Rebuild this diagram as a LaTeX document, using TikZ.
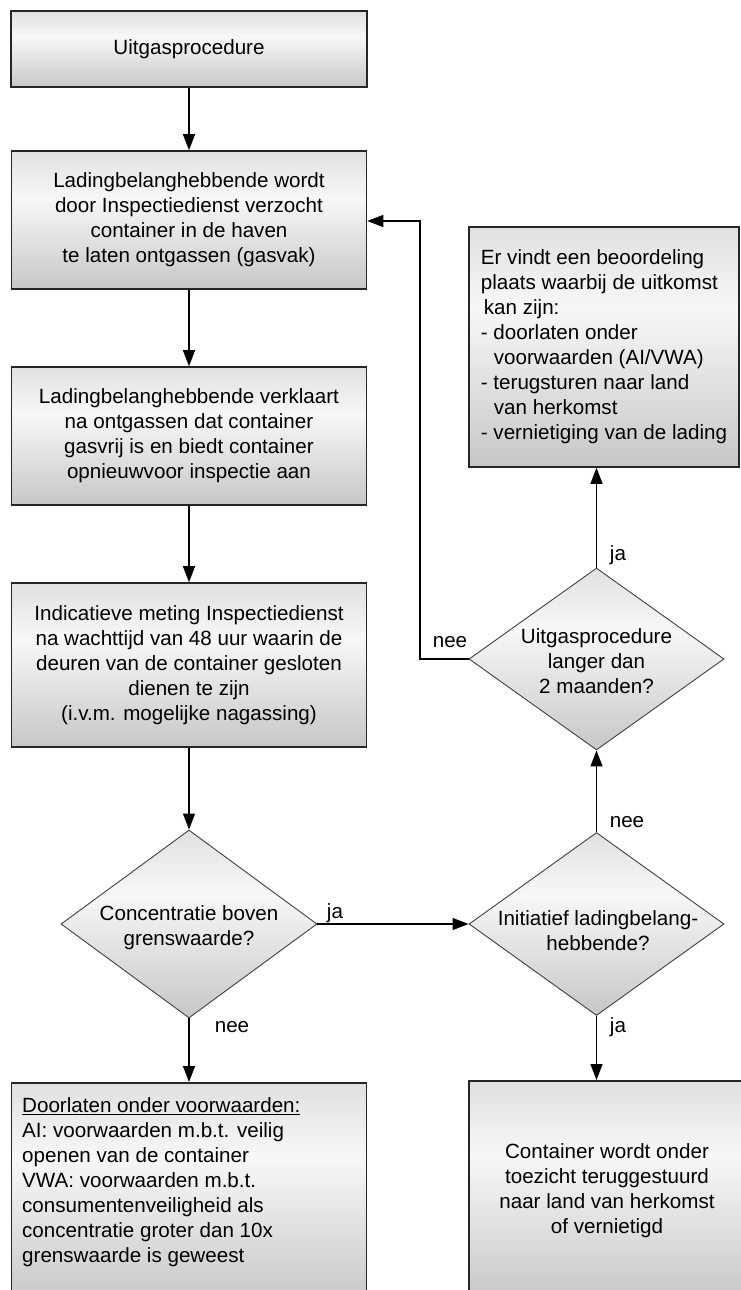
\documentclass[tikz,border=0pt]{standalone}
\usepackage{fontspec}
\setmainfont{Liberation Sans}
\usetikzlibrary{shapes.geometric,arrows.meta}

\pgfdeclareverticalshading{boxgrad}{100bp}{color(0bp)=(black!22); color(25bp)=(black!22); color(58bp)=(black!3); color(75bp)=(black!12); color(100bp)=(black!12)}

\begin{document}
\begin{tikzpicture}[x=1pt,y=-1pt,
  font=\fontsize{20.6}{25}\selectfont,
  procbox/.style={draw=black!85,line width=1.6pt,shading=boxgrad,align=center,inner sep=0pt},
  question/.style={diamond,draw=black!75,line width=0.9pt,shading=boxgrad,inner sep=0pt,minimum width=255pt,minimum height=184pt},
  qtext/.style={align=center,inner sep=0pt},
  flow/.style={line width=1.3pt,-{Triangle[length=16pt,width=12pt]}},
  lbl/.style={inner sep=0pt}]
\useasboundingbox (0,0) rectangle (741,1290);
\clip (0,0) rectangle (741,1290);

% left column
\node[procbox,minimum width=356pt,minimum height=76pt] (start) at (189,49) {Uitgasprocedure};
\node[procbox,minimum width=355pt,minimum height=138pt] (request) at (189,220) {Ladingbelanghebbende wordt\\door Inspectiedienst verzocht\\container in de haven\\te laten ontgassen (gasvak)};
\node[procbox,minimum width=355pt,minimum height=138pt] (declare) at (189,436) {Ladingbelanghebbende verklaart\\na ontgassen dat container\\gasvrij is en biedt container\\opnieuwvoor inspectie aan};
\node[procbox,minimum width=355pt,minimum height=164pt] (measure) at (189,665) {Indicatieve meting Inspectiedienst\\na wachttijd van 48 uur waarin de\\deuren van de container gesloten\\dienen te zijn\\(i.v.m. mogelijke nagassing)};
\node[question,minimum width=256pt,minimum height=188pt] (conc) at (189,924) {};
\node[qtext] (conct) at (189,928) {Concentratie boven\\grenswaarde?};
\node[procbox,minimum width=355pt,minimum height=220pt,anchor=north] (admit) at (189,1082) {};
\node[anchor=north west,align=left,inner sep=0pt] (admitt) at (22,1097) {\underline{Doorlaten onder voorwaarden:}\\AI: voorwaarden m.b.t. veilig\\openen van de container\\VWA: voorwaarden m.b.t.\\consumentenveiligheid als\\concentratie groter dan 10x\\grenswaarde is geweest};

% right column
\node[procbox,minimum width=270pt,minimum height=240pt,align=left] (verdict) at (604,347) {Er vindt een beoordeling\\plaats waarbij de uitkomst\\\hspace*{3pt}kan zijn:\\- doorlaten onder\\\hspace*{13pt}voorwaarden (AI/VWA)\\- terugsturen naar land\\\hspace*{13pt}van herkomst\\- vernietiging van de lading};
\node[question,minimum height=182pt] (longer) at (596.5,659) {};
\node[qtext] (longert) at (596.5,661) {Uitgasprocedure\\langer dan\\2 maanden?};
\node[question,minimum height=183pt] (init) at (596.5,924) {};
\node[qtext] (initt) at (598,931) {Initiatief ladingbelang-\\hebbende?};
\node[procbox,minimum width=276pt,minimum height=220pt,anchor=north] (return) at (607,1080) {Container wordt onder\\toezicht teruggestuurd\\naar land van herkomst\\of vernietigd};

% labels
\node[lbl] (ja1) at (335,913) {ja};
\node[lbl] (nee1) at (232,1027) {nee};
\node[lbl] (ja2) at (618,1027) {ja};
\node[lbl] (nee2) at (627,822) {nee};
\node[lbl] (ja3) at (618,555) {ja};
\node[lbl] (nee3) at (450,642) {nee};

\coordinate (bend) at (420,221);

% connectors
\draw[flow] (start) -- (request);
\draw[flow] (request) -- (declare);
\draw[flow] (declare) -- (measure);
\draw[flow] (measure) -- (conc);
\draw[flow] (conc.south) -- (admit.north);
\draw[flow] (conc.east) -- (init.west);
\draw[flow] (init.south) -- (init.south |- return.north);
\draw[flow] (init.north) -- (longer.south);
\draw[flow] (longer.north) -- (longer.north |- verdict.south);
\draw[flow] (longer.west) -| (bend) -- (request.east |- bend);
\end{tikzpicture}
\end{document}
